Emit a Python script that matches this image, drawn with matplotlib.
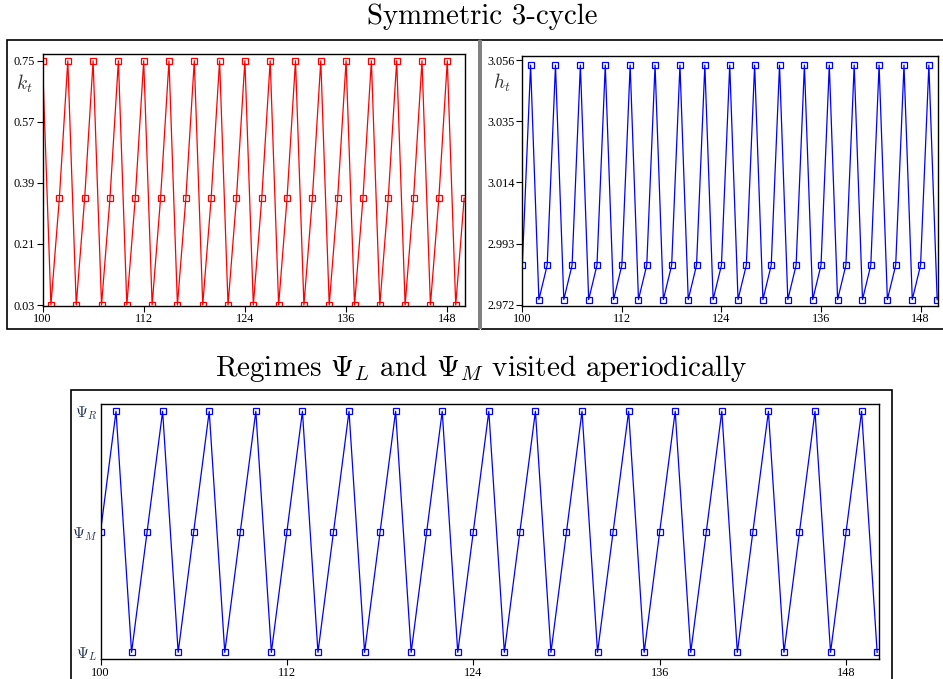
import numpy as np
import matplotlib
matplotlib.use('Agg')
import matplotlib.pyplot as plt
from matplotlib.patches import Rectangle

plt.rcParams['mathtext.fontset'] = 'cm'
plt.rcParams['font.family'] = 'Liberation Serif'

t = np.arange(100, 151)

# capital k_t, symmetric 3-cycle
k = [0.75, 0.03, 0.345, 0.75, 0.03, 0.345, 0.75, 0.03, 0.345,
     0.75, 0.03, 0.345, 0.75, 0.03, 0.345, 0.75, 0.03, 0.345,
     0.75, 0.03, 0.345, 0.75, 0.03, 0.345, 0.75, 0.03, 0.345,
     0.75, 0.03, 0.345, 0.75, 0.03, 0.345, 0.75, 0.03, 0.345,
     0.75, 0.03, 0.345, 0.75, 0.03, 0.345, 0.75, 0.03, 0.345,
     0.75, 0.03, 0.345, 0.75, 0.03, 0.345]

# h_t
h = [2.9856, 3.0543, 2.9738, 2.9856, 3.0543, 2.9738, 2.9856, 3.0543, 2.9738,
     2.9856, 3.0543, 2.9738, 2.9856, 3.0543, 2.9738, 2.9856, 3.0543, 2.9738,
     2.9856, 3.0543, 2.9738, 2.9856, 3.0543, 2.9738, 2.9856, 3.0543, 2.9738,
     2.9856, 3.0543, 2.9738, 2.9856, 3.0543, 2.9738, 2.9856, 3.0543, 2.9738,
     2.9856, 3.0543, 2.9738, 2.9856, 3.0543, 2.9738, 2.9856, 3.0543, 2.9738,
     2.9856, 3.0543, 2.9738, 2.9856, 3.0543, 2.9738]

# regime index: 0 = Psi_L, 1 = Psi_M, 2 = Psi_R
regime = [1, 2, 0, 1, 2, 0, 1, 2, 0,
          1, 2, 0, 1, 2, 0, 1, 2, 0,
          1, 2, 0, 1, 2, 0, 1, 2, 0,
          1, 2, 0, 1, 2, 0, 1, 2, 0,
          1, 2, 0, 1, 2, 0, 1, 2, 0,
          1, 2, 0, 1, 2, 0]

xticks = [100, 112, 124, 136, 148]
k_ticks = [0.03, 0.21, 0.39, 0.57, 0.75]
h_ticks = [2.972, 2.993, 3.014, 3.035, 3.056]
regime_labels = [r'$\Psi_L$', r'$\Psi_M$', r'$\Psi_R$']

W, H = 943, 679
fig = plt.figure(figsize=(W / 100, H / 100), dpi=100)


def box(x0, y0, x1, y1):
    # pixel coords (top-left origin) -> figure fraction
    return [x0 / W, 1 - y1 / H, (x1 - x0) / W, (y1 - y0) / H]


def style(ax):
    for s in ax.spines.values():
        s.set_linewidth(1.0)
        s.set_color('black')
    ax.tick_params(direction='out', length=4, width=0.8, labelsize=8.8,
                   top=False, right=False, pad=1.5)


ax1 = fig.add_axes(box(42.5, 54, 465, 305.7))
ax1.plot(t, k, color='#ff0000', lw=0.9, marker='s', ms=4.2, mfc='none', mec='#ff0000', mew=0.9)
ax1.set_xlim(100, 150.1)
ax1.set_ylim(0.028, 0.77)
ax1.set_xticks(xticks)
ax1.set_yticks(k_ticks)
ax1.set_yticklabels(['0.03', '0.21', '0.39', '0.57', '0.75'])
ax1.text(-0.044, 0.88, r'$k_t$', transform=ax1.transAxes, fontsize=14, ha='center', va='center', color='#333333')
style(ax1)

ax2 = fig.add_axes(box(522.3, 55.5, 938, 305.7))
ax2.plot(t, h, color='#0000ff', lw=0.9, marker='s', ms=4.2, mfc='none', mec='#0000ff', mew=0.9)
ax2.set_xlim(100, 150.1)
ax2.set_ylim(2.9717, 3.0576)
ax2.set_xticks(xticks)
ax2.set_yticks(h_ticks)
ax2.set_yticklabels(['2.972', '2.993', '3.014', '3.035', '3.056'])
ax2.text(-0.05, 0.89, r'$h_t$', transform=ax2.transAxes, fontsize=14, ha='center', va='center', color='#333333')
style(ax2)

ax3 = fig.add_axes(box(100.5, 404.3, 878.7, 659))
ax3.plot(t, regime, color='#0000ff', lw=0.9, marker='s', ms=4.2, mfc='none', mec='#0000ff', mew=0.9)
ax3.set_xlim(100, 150.1)
ax3.set_ylim(-0.055, 2.058)
ax3.set_xticks(xticks)
ax3.set_yticks([0, 1, 2])
ax3.set_yticklabels(regime_labels, color='#203050')
style(ax3)
ax3.tick_params(axis='y', length=0, labelsize=11, pad=2)

# frames around the panels
fig.add_artist(Rectangle((7 / W, 1 - 329.3 / H), (479 - 7) / W, (329.3 - 40) / H,
                         transform=fig.transFigure, fill=False, ec='black', lw=1.2))
fig.add_artist(Rectangle((481 / W, 1 - 329.3 / H), (950 - 481) / W, (329.3 - 40) / H,
                         transform=fig.transFigure, fill=False, ec='black', lw=1.2, clip_on=False))
fig.add_artist(Rectangle((478 / W, 1 - 329.3 / H), 3.5 / W, (329.3 - 40) / H,
                         transform=fig.transFigure, fill=True, fc='#808080', ec='none'))
fig.add_artist(Rectangle((71 / W, 1 - 690 / H), (892.3 - 71) / W, (690 - 390.3) / H,
                         transform=fig.transFigure, fill=False, ec='black', lw=1.2, clip_on=False))

fig.text(482 / W, 1 - 17 / H, 'Symmetric 3-cycle', family='cmr10', fontsize=20.8,
         ha='center', va='center')
fig.text(481 / W, 1 - 368 / H, r'Regimes $\Psi_L$ and $\Psi_M$ visited aperiodically',
         family='cmr10', fontsize=21, ha='center', va='center')

fig.savefig('out.png', dpi=100)
